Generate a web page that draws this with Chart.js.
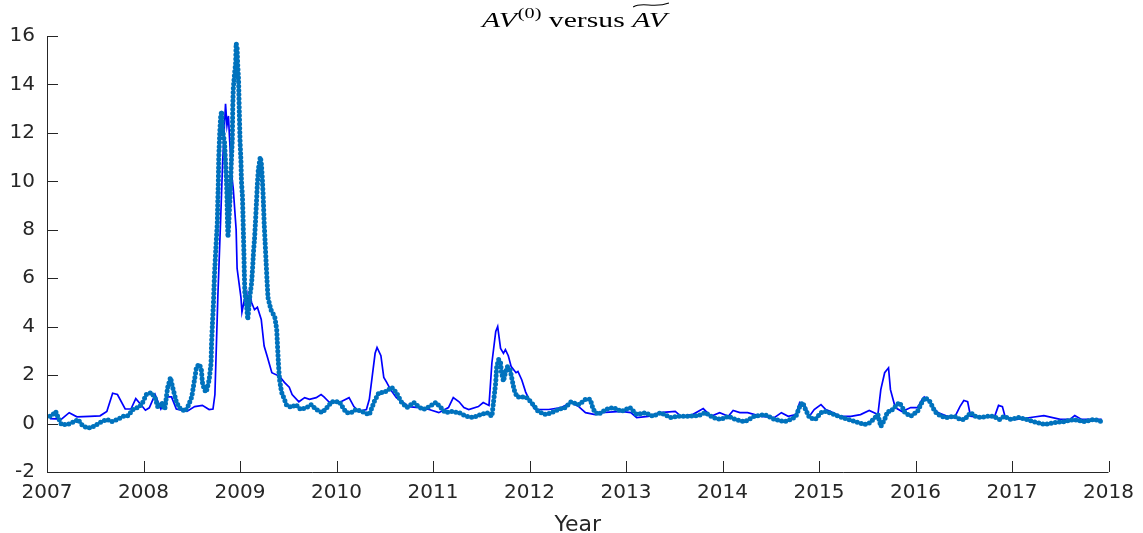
<!DOCTYPE html>
<html>
<head>
<meta charset="utf-8">
<script src="https://cdn.jsdelivr.net/npm/chart.js@4.4.1/dist/chart.umd.min.js"></script>
<style>
  html, body { margin: 0; padding: 0; background: #fff; }
  #wrap { width: 1143px; height: 533px; }
</style>
</head>
<body>
<div id="wrap"><canvas id="chart" width="1143" height="533"></canvas></div>
<script>
// solid line: AV tilde
const lineYears = [
    2007.03,2007.15,2007.23,2007.31,2007.44,2007.55,2007.62,2007.68,2007.73,2007.81,
    2007.87,2007.92,2007.97,2008.02,2008.06,2008.12,2008.18,2008.25,2008.29,2008.34,
    2008.45,2008.53,2008.61,2008.68,2008.72,2008.74,2008.77,2008.80,2008.82,2008.85,
    2008.865,2008.88,2008.89,2008.91,2008.93,2008.96,2008.97,2008.99,2009.01,2009.02,
    2009.05,2009.07,2009.08,2009.10,2009.12,2009.15,2009.18,2009.22,2009.25,2009.28,
    2009.33,2009.41,2009.46,2009.51,2009.54,2009.61,2009.67,2009.72,2009.79,2009.84,
    2009.87,2009.92,2010.03,2010.13,2010.18,2010.23,2010.31,2010.34,2010.37,2010.40,
    2010.42,2010.46,2010.49,2010.52,2010.56,2010.62,2010.68,2010.75,2010.85,2010.96,
    2011.06,2011.16,2011.21,2011.27,2011.32,2011.37,2011.47,2011.52,2011.58,2011.61,
    2011.65,2011.67,2011.70,2011.73,2011.75,2011.78,2011.81,2011.86,2011.88,2011.92,
    2011.96,2012.01,2012.06,2012.20,2012.33,2012.43,2012.51,2012.58,2012.68,2012.74,
    2012.95,2013.05,2013.11,2013.23,2013.35,2013.51,2013.57,2013.69,2013.80,2013.88,
    2013.97,2014.06,2014.11,2014.18,2014.26,2014.40,2014.54,2014.61,2014.68,2014.76,
    2014.80,2014.85,2014.90,2014.95,2015.02,2015.07,2015.12,2015.22,2015.33,2015.43,
    2015.52,2015.61,2015.64,2015.68,2015.72,2015.74,2015.79,2015.86,2015.95,2016.02,
    2016.07,2016.09,2016.15,2016.23,2016.33,2016.41,2016.46,2016.50,2016.54,2016.57,
    2016.67,2016.76,2016.82,2016.86,2016.90,2016.93,2017.05,2017.19,2017.33,2017.50,
    2017.60,2017.65,2017.72,2017.93
];
const lineValues = [
    0.2,0.18,0.45,0.28,0.3,0.32,0.5,1.25,1.2,0.6,
    0.6,1.03,0.8,0.55,0.65,1.2,0.6,1.1,1.1,0.6,
    0.5,0.7,0.75,0.58,0.6,1.2,5.2,8.5,10.8,13.2,
    12.3,12.7,11.9,10.4,9.7,8.0,6.4,5.8,5.2,4.6,
    5.2,5.4,4.8,5.4,5.0,4.7,4.8,4.3,3.2,2.8,
    2.1,1.95,1.7,1.5,1.2,0.9,1.07,1.0,1.07,1.2,
    1.1,0.9,0.87,1.07,0.7,0.5,0.58,1.0,1.95,2.9,
    3.14,2.8,1.9,1.7,1.4,1.07,0.9,0.7,0.66,0.58,
    0.45,0.66,1.07,0.9,0.66,0.58,0.7,0.87,0.75,2.5,
    3.8,4.0,3.1,2.9,3.05,2.8,2.35,2.1,2.15,1.8,
    1.3,0.87,0.58,0.58,0.66,0.87,0.7,0.45,0.37,0.45,
    0.5,0.45,0.25,0.3,0.45,0.5,0.3,0.37,0.62,0.3,
    0.45,0.3,0.54,0.45,0.45,0.3,0.25,0.45,0.3,0.37,
    0.87,0.78,0.3,0.58,0.78,0.58,0.5,0.3,0.3,0.37,
    0.54,0.37,1.4,2.1,2.3,1.4,0.66,0.5,0.66,0.66,
    1.0,1.1,0.87,0.45,0.3,0.3,0.7,0.95,0.9,0.3,
    0.25,0.3,0.3,0.75,0.7,0.25,0.17,0.25,0.33,0.17,
    0.17,0.33,0.17,0.17
];

// dotted series: AV^(0)
const dotYears = [
    2007.03,2007.06,2007.09,2007.11,2007.15,2007.21,2007.26,2007.29,2007.32,2007.36,
    2007.41,2007.46,2007.50,2007.55,2007.62,2007.67,2007.73,2007.79,2007.84,2007.89,
    2007.94,2007.98,2008.03,2008.08,2008.12,2008.15,2008.19,2008.22,2008.25,2008.28,
    2008.30,2008.34,2008.37,2008.43,2008.46,2008.50,2008.52,2008.55,2008.58,2008.60,
    2008.61,2008.63,2008.65,2008.68,2008.70,2008.705,2008.715,2008.725,2008.735,2008.745,
    2008.755,2008.765,2008.77,2008.775,2008.78,2008.79,2008.80,2008.81,2008.82,2008.84,
    2008.85,2008.86,2008.865,2008.87,2008.875,2008.88,2008.89,2008.90,2008.91,2008.92,
    2008.925,2008.93,2008.94,2008.955,2008.96,2008.97,2008.975,2008.985,2008.99,2009.00,
    2009.01,2009.015,2009.025,2009.03,2009.035,2009.04,2009.045,2009.05,2009.07,2009.08,
    2009.09,2009.10,2009.12,2009.13,2009.14,2009.15,2009.16,2009.17,2009.18,2009.19,
    2009.21,2009.22,2009.23,2009.24,2009.25,2009.26,2009.27,2009.28,2009.29,2009.32,
    2009.36,2009.38,2009.39,2009.40,2009.41,2009.43,2009.46,2009.48,2009.53,2009.58,
    2009.63,2009.69,2009.74,2009.79,2009.85,2009.90,2009.95,2010.03,2010.06,2010.10,
    2010.15,2010.20,2010.26,2010.34,2010.39,2010.44,2010.49,2010.54,2010.57,2010.62,
    2010.67,2010.73,2010.80,2010.85,2010.90,2010.96,2011.03,2011.08,2011.13,2011.19,
    2011.27,2011.34,2011.42,2011.49,2011.56,2011.61,2011.63,2011.65,2011.66,2011.68,
    2011.70,2011.71,2011.73,2011.75,2011.77,2011.80,2011.82,2011.84,2011.87,2011.92,
    2011.97,2012.02,2012.09,2012.17,2012.23,2012.30,2012.37,2012.43,2012.51,2012.58,
    2012.63,2012.66,2012.71,2012.79,2012.87,2012.95,2013.04,2013.11,2013.20,2013.28,
    2013.36,2013.46,2013.54,2013.64,2013.75,2013.82,2013.90,2013.98,2014.06,2014.13,
    2014.23,2014.33,2014.44,2014.54,2014.64,2014.71,2014.76,2014.80,2014.83,2014.86,
    2014.90,2014.96,2015.02,2015.07,2015.16,2015.24,2015.30,2015.38,2015.47,2015.53,
    2015.61,2015.64,2015.68,2015.71,2015.74,2015.79,2015.83,2015.86,2015.89,2015.95,
    2016.02,2016.07,2016.10,2016.15,2016.20,2016.26,2016.33,2016.40,2016.46,2016.51,
    2016.57,2016.62,2016.67,2016.74,2016.81,2016.87,2016.92,2016.98,2017.07,2017.15,
    2017.26,2017.34,2017.43,2017.54,2017.64,2017.74,2017.85,2017.93
];
const dotValues = [
    0.3,0.37,0.5,0.3,-0.04,-0.04,0.04,0.08,0.17,-0.04,
    -0.17,-0.17,-0.08,0.04,0.17,0.08,0.17,0.3,0.33,0.58,
    0.66,0.78,1.2,1.28,1.07,0.66,0.87,0.58,1.49,1.9,
    1.53,0.9,0.66,0.5,0.7,1.1,1.6,2.35,2.45,2.2,
    1.7,1.4,1.3,1.8,2.5,3.3,4.2,5.0,6.1,6.9,
    7.6,8.3,9.2,9.9,11.0,12.0,12.7,12.9,12.1,11.6,
    10.8,10.0,9.4,8.4,7.7,8.0,8.8,9.6,10.8,11.7,
    13.1,13.8,14.3,14.9,15.7,15.5,14.9,14.2,13.3,11.7,
    10.8,10.0,9.4,8.7,7.9,7.1,6.2,5.4,4.8,4.3,
    4.7,5.2,5.8,6.4,7.1,7.6,8.3,9.1,9.9,10.5,
    11.0,10.8,10.2,9.4,8.3,7.5,6.7,5.9,5.2,4.7,
    4.4,3.9,3.1,2.35,1.8,1.3,1.0,0.78,0.66,0.78,
    0.58,0.66,0.78,0.58,0.45,0.66,0.9,0.9,0.7,0.45,
    0.45,0.58,0.5,0.37,0.9,1.28,1.28,1.4,1.5,1.28,
    0.9,0.66,0.87,0.7,0.58,0.7,0.87,0.66,0.45,0.5,
    0.45,0.3,0.25,0.37,0.45,0.3,1.0,1.7,2.35,2.65,
    2.5,2.1,1.75,2.1,2.35,2.2,1.8,1.4,1.1,1.1,
    1.07,0.87,0.5,0.37,0.45,0.58,0.66,0.9,0.78,1.0,
    1.0,0.58,0.37,0.58,0.66,0.5,0.66,0.37,0.45,0.3,
    0.45,0.25,0.3,0.3,0.33,0.45,0.25,0.17,0.3,0.17,
    0.08,0.3,0.37,0.17,0.08,0.17,0.3,0.7,0.87,0.58,
    0.25,0.17,0.45,0.5,0.37,0.25,0.17,0.08,-0.04,0.04,
    0.37,-0.12,0.17,0.5,0.5,0.7,0.87,0.7,0.45,0.3,
    0.5,0.9,1.07,0.9,0.5,0.3,0.25,0.3,0.17,0.17,
    0.45,0.3,0.25,0.3,0.3,0.17,0.3,0.17,0.25,0.17,
    0.04,-0.04,0.04,0.08,0.17,0.08,0.17,0.08
];

const xMin = 2007, xMax = 2018;
const yMin = -2, yMax = 16;
const axisColor = '#262626';

// matlab style axes (inward ticks, no box) and the LaTeX-ish title
const matlabAxes = {
    id: 'matlabAxes',
    afterDraw(chart) {
        const ctx = chart.ctx;
        const a = chart.chartArea;
        const x = chart.scales.x, y = chart.scales.y;
        ctx.save();
        ctx.strokeStyle = axisColor;
        ctx.lineWidth = 1;
        ctx.beginPath();
        ctx.moveTo(a.left + 0.5, a.top);
        ctx.lineTo(a.left + 0.5, a.bottom + 0.5);
        ctx.lineTo(a.right, a.bottom + 0.5);
        x.ticks.forEach(t => {
            const px = Math.round(x.getPixelForValue(t.value)) + 0.5;
            ctx.moveTo(px, a.bottom);
            ctx.lineTo(px, a.bottom - 11);
        });
        y.ticks.forEach(t => {
            const py = Math.round(y.getPixelForValue(t.value)) + 0.5;
            ctx.moveTo(a.left, py);
            ctx.lineTo(a.left + 11, py);
        });
        ctx.stroke();

        // title: AV^(0) versus widetilde(AV)
        const base = 27, sx = 1.35;
        let cx = 482;
        ctx.fillStyle = '#000';
        ctx.textBaseline = 'alphabetic';
        ctx.textAlign = 'left';
        const piece = (txt, font, dy) => {
            ctx.font = font;
            const w = ctx.measureText(txt).width * sx;
            ctx.save();
            ctx.translate(cx, base + dy);
            ctx.scale(sx, 1);
            ctx.fillText(txt, 0, 0);
            ctx.restore();
            cx += w;
            return w;
        };
        piece('AV', 'italic 22px "Liberation Serif"', 0);
        cx += 1;
        piece('(0)', '15px "Liberation Serif"', -9);
        piece(' versus ', '22px "Liberation Serif"', 0);
        const t0 = cx;
        const w = piece('AV', 'italic 22px "Liberation Serif"', 0);
        ctx.beginPath();
        ctx.lineWidth = 1.1;
        ctx.strokeStyle = '#000';
        ctx.moveTo(t0 + 1, 7);
        ctx.bezierCurveTo(t0 + w * 0.3, 1, t0 + w * 0.6, 9, t0 + w + 2, 3);
        ctx.stroke();
        ctx.restore();
    }
};

new Chart('chart', {
    type: 'line',
    data: {
        datasets: [{
            label: 'AV(0)',
            data: dotYears.map((yr, i) => ({ x: yr, y: dotValues[i] })),
            borderColor: '#0072BD',
            borderWidth: 5,
            borderDash: [0, 4.2],
            borderCapStyle: 'round',
            pointRadius: 0,
            tension: 0,
            fill: false
        }, {
            label: 'AV tilde',
            data: lineYears.map((yr, i) => ({ x: yr, y: lineValues[i] })),
            borderColor: '#0000FF',
            borderWidth: 1.7,
            pointRadius: 0,
            tension: 0,
            fill: false
        }]
    },
    options: {
        responsive: false,
        animation: false,
        layout: { padding: { left: 0, top: 36, right: 30, bottom: 0 } },
        plugins: {
            legend: { display: false },
            tooltip: { enabled: false },
            title: { display: false }
        },
        scales: {
            x: {
                type: 'linear',
                min: xMin,
                max: xMax,
                grid: { display: false, drawTicks: false },
                border: { display: false },
                ticks: {
                    stepSize: 1,
                    padding: 9,
                    maxRotation: 0,
                    autoSkip: false,
                    color: axisColor,
                    font: { family: 'DejaVu Sans', size: 20 },
                    callback: v => String(v)
                },
                title: {
                    display: true,
                    text: 'Year',
                    color: axisColor,
                    font: { family: 'DejaVu Sans', size: 22, lineHeight: 1 },
                    padding: { top: 0, bottom: -3 }
                },
                afterFit: s => { s.height = 61; }
            },
            y: {
                min: yMin,
                max: yMax,
                grid: { display: false, drawTicks: false },
                border: { display: false },
                ticks: {
                    stepSize: 2,
                    padding: 12,
                    color: axisColor,
                    font: { family: 'DejaVu Sans', size: 20 }
                },
                afterFit: s => { s.width = 47; }
            }
        }
    },
    plugins: [matlabAxes]
});
</script>
</body>
</html>
